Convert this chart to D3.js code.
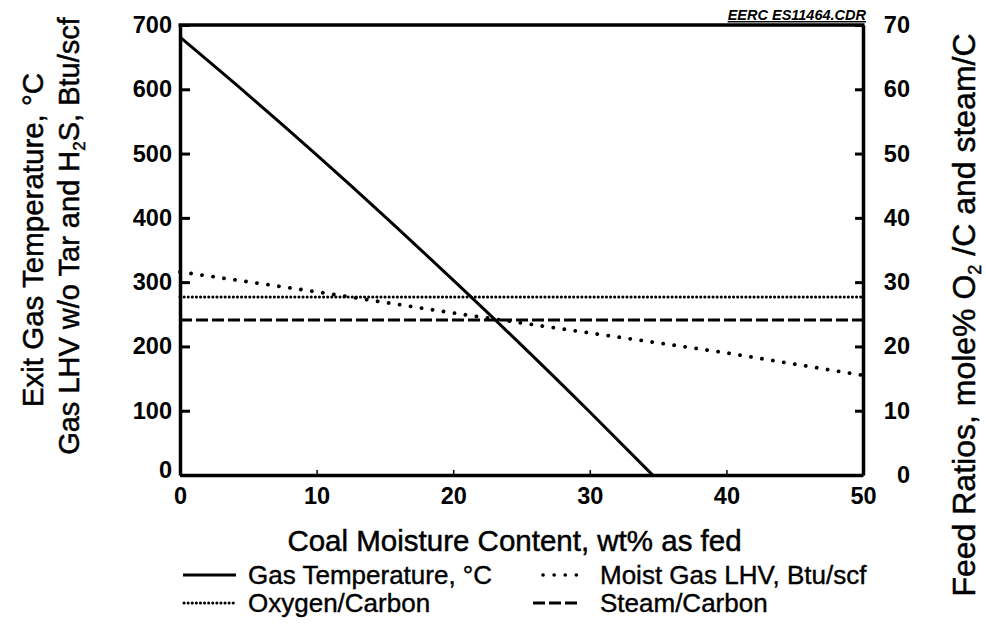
<!DOCTYPE html>
<html><head><meta charset="utf-8">
<script src="https://cdn.jsdelivr.net/npm/d3@7"></script>
<style>
body{margin:0;background:#fff;}
svg{display:block;font-family:"Liberation Sans",Arial,sans-serif;}
</style></head>
<body><svg id="c" width="986" height="627"></svg>
<script>
// ---- data ----
const tempMoisture = [0,5,10,15,20,25,30,34.6];
const tempValues   = [681,591,498,402,303,202,98,0];
const lhvMoisture  = [0,10,20,30,40,50];
const lhvValues    = [316,285,252,221,190,155];
const ratioMoisture = [0,50];
const oxygenCarbon = [27.7,27.7];
const steamCarbon  = [24.1,24.1];
const xTicks = [0,10,20,30,40,50];
const leftTicks = [0,100,200,300,400,500,600,700];
const rightTicks = [0,10,20,30,40,50,60,70];
const legendLabels = ["Gas Temperature, °C","Moist Gas LHV, Btu/scf","Oxygen/Carbon","Steam/Carbon"];

const svg = d3.select("#c");
const L=180,R=863,T=25,B=475;
const x = d3.scaleLinear().domain([0,50]).range([L,R]);
const yL = d3.scaleLinear().domain([0,700]).range([B,T]);
const yR = d3.scaleLinear().domain([0,70]).range([B,T]);

// axes
const ax = svg.append("g").attr("transform",`translate(0,${B})`)
  .call(d3.axisBottom(x).tickValues(xTicks).tickSizeInner(-5).tickSizeOuter(0).tickPadding(14).tickFormat(d3.format("d")));
const ayl = svg.append("g").attr("transform",`translate(${L},0)`)
  .call(d3.axisLeft(yL).tickValues(leftTicks).tickSizeInner(-10).tickSizeOuter(0).tickPadding(8));
const ayr = svg.append("g").attr("transform",`translate(${R},0)`)
  .call(d3.axisRight(yR).tickValues(rightTicks).tickSizeInner(-8).tickSizeOuter(0).tickPadding(20));
[ax,ayl,ayr].forEach(g=>{
  g.select(".domain").attr("stroke","#000").attr("stroke-width",3.5);
  g.selectAll(".tick line").attr("stroke","#000").attr("stroke-width",3);
  g.selectAll(".tick text").attr("fill","#000").attr("font-size",23.5).attr("font-weight","bold")
   .attr("font-family","'Liberation Sans',Arial,sans-serif");
});
ax.selectAll(".tick line").attr("stroke-width",1.5);
ax.selectAll(".tick text").attr("dy","0.62em");
ayl.select(".tick:first-of-type text").attr("dy","0.1em");
ayr.selectAll(".tick text").attr("text-anchor","end").attr("dx",27);
// top frame
svg.append("line").attr("x1",L-1.5).attr("x2",R+1.5).attr("y1",T).attr("y2",T)
  .attr("stroke","#000").attr("stroke-width",3.5);

// lines
const solid = d3.line().curve(d3.curveMonotoneX).x((d,i)=>x(tempMoisture[i])).y(d=>yL(d));
svg.append("path").attr("d",solid(tempValues)).attr("fill","none").attr("stroke","#000").attr("stroke-width",3);
const lhvLine = d3.line().x((d,i)=>x(lhvMoisture[i])).y(d=>yL(d));
svg.append("path").attr("d",lhvLine(lhvValues)).attr("fill","none").attr("stroke","#000")
  .attr("stroke-width",3.8).attr("stroke-linecap","round").attr("stroke-dasharray","0.1,11");
const rLine = d3.line().x((d,i)=>x(ratioMoisture[i])).y(d=>yR(d));
svg.append("path").attr("d",rLine(oxygenCarbon)).attr("fill","none").attr("stroke","#000")
  .attr("stroke-width",3).attr("stroke-linecap","round").attr("stroke-dasharray","0.1,4");
svg.append("path").attr("d",rLine(steamCarbon)).attr("fill","none").attr("stroke","#000")
  .attr("stroke-width",3).attr("stroke-dasharray","12,4");

// titles
const titleStyle = s => s.attr("stroke","#000").attr("stroke-width",0.5);
svg.append("text").attr("x",(L+R)/2-7).attr("y",551).attr("text-anchor","middle")
  .attr("font-size",29.5).call(titleStyle).text("Coal Moisture Content, wt% as fed");
svg.append("text").attr("transform","translate(43,240) rotate(-90)").attr("text-anchor","middle")
  .attr("font-size",29.5).call(titleStyle).text("Exit Gas Temperature, °C");
const t2 = svg.append("text").attr("transform","translate(79,236) rotate(-90)").attr("text-anchor","middle")
  .attr("font-size",29).call(titleStyle);
t2.append("tspan").text("Gas LHV w/o Tar and H");
t2.append("tspan").attr("font-size",17).attr("dy",6).text("2");
t2.append("tspan").attr("dy",-6).text("S, Btu/scf");
const t3 = svg.append("text").attr("transform","translate(975,315) rotate(-90)").attr("text-anchor","middle")
  .attr("font-size",32).call(titleStyle);
t3.append("tspan").text("Feed Ratios, mole% O");
t3.append("tspan").attr("font-size",18).attr("dy",6).text("2");
t3.append("tspan").attr("dy",-6).text(" /C and steam/C");

// stamp
svg.append("text").attr("x",866).attr("y",20).attr("text-anchor","end").attr("font-size",14.5)
  .attr("font-weight","bold").attr("font-style","italic").attr("text-decoration","underline")
  .text("EERC ES11464.CDR");

// legend
const leg = [
  {x1:183,x2:236,y:575,tx:248,dash:null,w:3,cap:"butt"},
  {x1:543,x2:580,y:575,tx:600,dash:"0.1,11",w:3.6,cap:"round"},
  {x1:184,x2:236,y:603,tx:248,dash:"0.1,4",w:3,cap:"round"},
  {x1:533,x2:580,y:603,tx:600,dash:"12,4",w:3,cap:"butt"}
];
leg.forEach((d,i)=>{
  svg.append("line").attr("x1",d.x1).attr("x2",d.x2).attr("y1",d.y).attr("y2",d.y)
    .attr("stroke","#000").attr("stroke-width",d.w).attr("stroke-linecap",d.cap)
    .attr("stroke-dasharray",d.dash);
  svg.append("text").attr("x",d.tx).attr("y",d.y+9).attr("font-size",26)
    .attr("stroke","#000").attr("stroke-width",0.4).text(legendLabels[i]);
});
</script></body></html>
